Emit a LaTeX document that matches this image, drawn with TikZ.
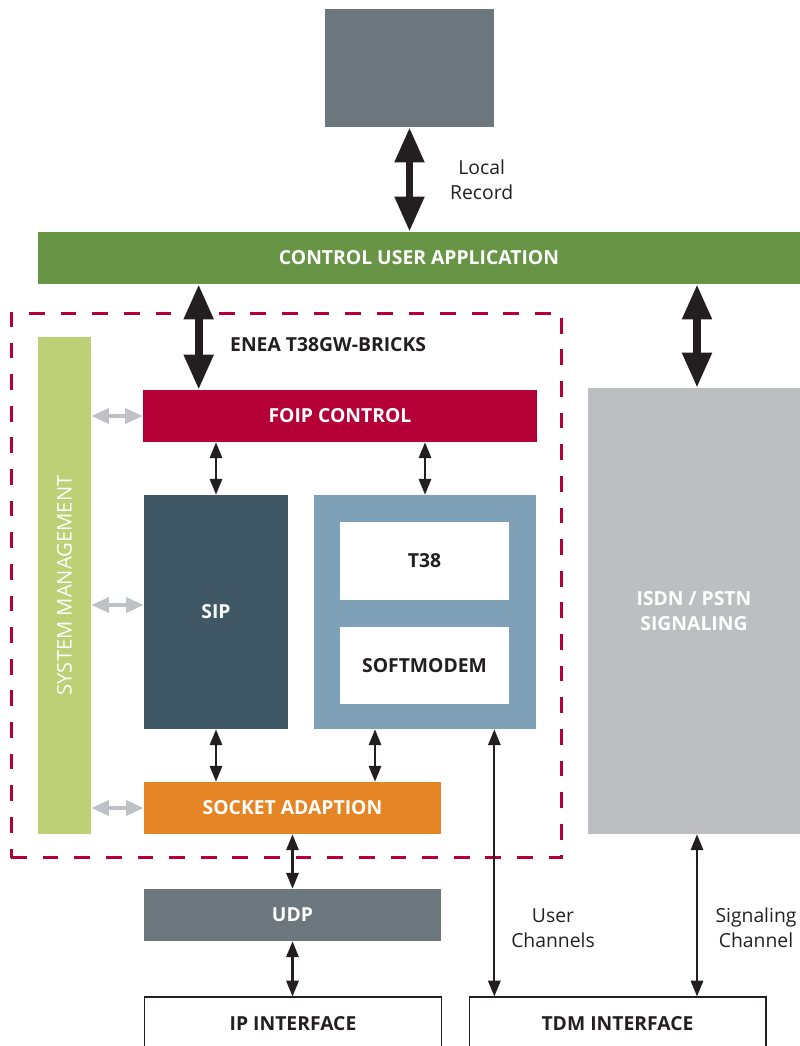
\documentclass[tikz,border=0pt]{standalone}
\usepackage{fontspec}
\setmainfont{Open Sans}
\usetikzlibrary{arrows.meta, positioning}

\definecolor{slategray}{HTML}{6B767D}
\definecolor{ctrlgreen}{HTML}{689545}
\definecolor{crimson}{HTML}{B40037}
\definecolor{sysgreen}{HTML}{BDD075}
\definecolor{sipblue}{HTML}{405866}
\definecolor{faxblue}{HTML}{7EA1B8}
\definecolor{sockorange}{HTML}{E68526}
\definecolor{isdngray}{HTML}{BDBEC1}
\definecolor{linkgray}{HTML}{C0C1C4}
\definecolor{inkblack}{HTML}{231F20}

\begin{document}
\begin{tikzpicture}[x=0.02cm, y=-0.02cm,
			% Define styles
			block/.style={rectangle, inner sep=0pt, text=white, font=\fontsize{11}{14.5}\selectfont\bfseries, align=center},
			whitebox/.style={rectangle, inner sep=0pt, fill=white, text=inkblack, font=\fontsize{11}{14.5}\selectfont\bfseries, align=center},
			ifbox/.style={rectangle, draw=inkblack, line width=0.6pt, inner sep=0pt, text=inkblack, font=\fontsize{11}{14.5}\selectfont\bfseries},
			bigarrow/.style={{Triangle[width=16pt,length=20pt]}-{Triangle[width=16pt,length=20pt]}, line width=4.5pt, draw=inkblack},
			smallarrow/.style={{Triangle[width=7pt,length=9pt]}-{Triangle[width=7pt,length=9pt]}, line width=1.3pt, draw=inkblack},
			grayarrow/.style={{Triangle[width=8.5pt,length=10pt]}-{Triangle[width=8.5pt,length=10pt]}, line width=2pt, draw=linkgray},
			note/.style={font=\fontsize{11}{14.5}\selectfont, text=inkblack, align=center}
			]
			\useasboundingbox (0,0) rectangle (800,1046);
			
			% Top record and control bar
			\node[block, fill=slategray, minimum width=3.38cm, minimum height=2.36cm] (record) at (409.5,68) {};
			\node[block, fill=ctrlgreen, minimum width=15.24cm, minimum height=1.04cm] (control) at (419,258) {CONTROL USER APPLICATION};
			\node[note, anchor=west] (reclabel) at (444,180) {Local\\Record};
			
			% Bricks frame
			\node[rectangle, draw=crimson, line width=1.7pt, dash pattern=on 9pt off 9pt, minimum width=11.02cm, minimum height=10.9cm] (bricks) at (286.5,585.5) {};
			\node[anchor=west, font=\fontsize{11}{14.5}\selectfont\bfseries, text=inkblack] (brickslabel) at (224,345) {ENEA T38GW-BRICKS};
			
			% Inner blocks
			\node[block, fill=sysgreen, rotate=90, font=\fontsize{11.5}{14}\selectfont, minimum width=9.94cm, minimum height=1.06cm] (sysman) at (64.5,585.5) {SYSTEM MANAGEMENT};
			\node[block, fill=crimson, minimum width=7.88cm, minimum height=1.04cm] (foip) at (340,416) {FOIP CONTROL};
			\node[block, fill=sipblue, minimum width=2.88cm, minimum height=4.68cm] (sip) at (216,612) {SIP};
			\node[block, fill=faxblue, minimum width=4.44cm, minimum height=4.68cm] (fax) at (425,612) {};
			\node[whitebox, minimum width=3.38cm, minimum height=1.56cm] (t38) at (424.5,561) {T38};
			\node[whitebox, minimum width=3.38cm, minimum height=1.54cm] (softmodem) at (424.5,665.5) {SOFTMODEM};
			\node[block, fill=sockorange, minimum width=5.94cm, minimum height=1.04cm] (socket) at (292.5,808) {SOCKET ADAPTION};
			
			% Outside blocks
			\node[block, fill=slategray, minimum width=5.94cm, minimum height=1.04cm] (udp) at (292.5,915) {UDP};
			\node[block, fill=isdngray, minimum width=4.24cm, minimum height=8.92cm] (isdn) at (694,611) {ISDN / PSTN\\SIGNALING};
			\node[ifbox, minimum width=5.94cm, minimum height=1.08cm] (ipif) at (293,1024) {IP INTERFACE};
			\node[ifbox, minimum width=5.94cm, minimum height=1.08cm] (tdmif) at (617.5,1024) {TDM INTERFACE};
			
			% Heavy connections
			\draw[bigarrow] (record.south) -- (record.south |- control.north);
			\draw[bigarrow] ([xshift=1.12cm]foip.north west |- control.south) -- ([xshift=1.12cm]foip.north west);
			\draw[bigarrow] ([xshift=0.06cm]isdn.north |- control.south) -- ([xshift=0.06cm]isdn.north);
			
			% Management links
			\draw[grayarrow] (sysman.south |- foip.west) -- (foip.west);
			\draw[grayarrow] ([yshift=0.14cm]sysman.south |- sip.west) -- ([yshift=0.14cm]sip.west);
			\draw[grayarrow] (sysman.south |- socket.west) -- (socket.west);
			
			% Stack links
			\draw[smallarrow] (foip.south -| sip.north) -- (sip.north);
			\draw[smallarrow] (foip.south -| fax.north) -- (fax.north);
			\draw[smallarrow] (sip.south) -- (sip.south |- socket.north);
			\draw[smallarrow] ([xshift=-1cm]fax.south) -- ([xshift=-1cm]fax.south |- socket.north);
			\draw[smallarrow] (socket.south) -- (udp.north);
			\draw[smallarrow] (udp.south) -- (udp.south |- ipif.north);
			
			% Channel links
			\draw[smallarrow] ([xshift=-0.84cm]fax.south east) -- ([xshift=-0.84cm]fax.south east |- tdmif.north);
			\draw[smallarrow] ([xshift=0.06cm]isdn.south) -- ([xshift=0.06cm]isdn.south |- tdmif.north);
			\node[note] (userlabel) at (553,928) {User\\Channels};
			\node[note] (siglabel) at (756,928) {Signaling\\Channel};
			
		\end{tikzpicture}
\end{document}
